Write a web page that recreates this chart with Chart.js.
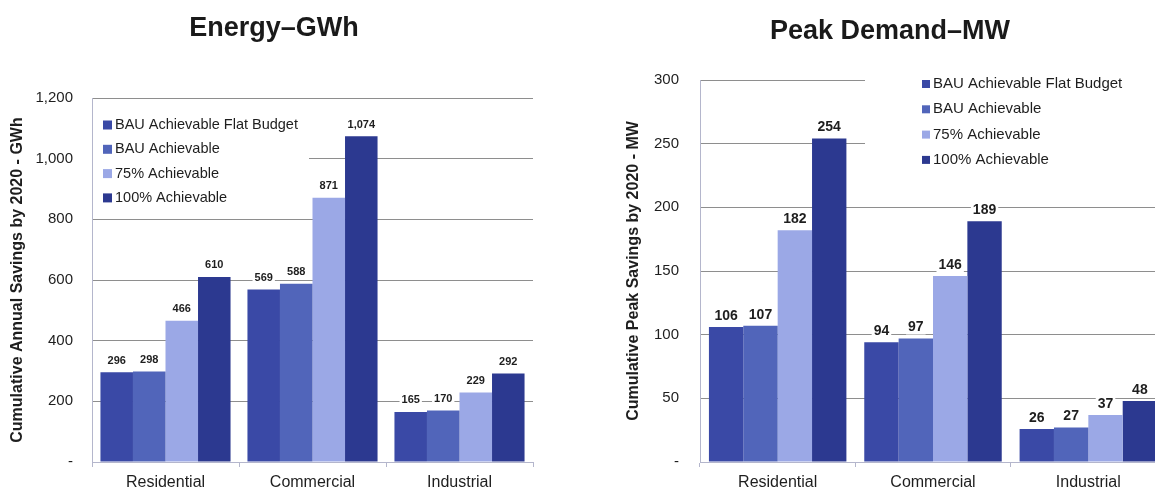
<!DOCTYPE html>
<html>
<head>
<meta charset="utf-8">
<title>Energy and Peak Demand Savings</title>
<script src="https://cdn.jsdelivr.net/npm/chart.js@4.4.1/dist/chart.umd.min.js"></script>
<style>
  html, body { margin: 0; padding: 0; background: #fff; width: 1155px; height: 493px; overflow: hidden; }
  canvas { position: absolute; top: 0; }
  #energy-chart { left: 0; }
  #peak-chart { left: 600px; }
</style>
</head>
<body>
<canvas id="energy-chart" width="560" height="493"></canvas>
<canvas id="peak-chart" width="575" height="493"></canvas>
<script>
// Data
const categories = ["Residential", "Commercial", "Industrial"];
const seriesNames = ["BAU Achievable Flat Budget", "BAU Achievable", "75% Achievable", "100% Achievable"];
const seriesColors = ["#3a49a6", "#5165ba", "#9ba8e6", "#2c3990"];

const energyFlatBudget = [296, 569, 165];
const energyBau = [298, 588, 170];
const energy75 = [466, 871, 229];
const energy100 = [610, 1074, 292];

const peakFlatBudget = [106, 94, 26];
const peakBau = [107, 97, 27];
const peak75 = [182, 146, 37];
const peak100 = [254, 189, 48];

const energyTickMax = 1200;
const energyTickStep = 200;
const peakTickMax = 300;
const peakTickStep = 50;

const FONT = "'Liberation Sans', Arial, sans-serif";

// Title drawn at a fixed spot over the panel
const panelTitle = {
  id: "panelTitle",
  afterDraw(chart, args, opts) {
    const ctx = chart.ctx;
    ctx.save();
    ctx.font = opts.font;
    ctx.fillStyle = opts.color;
    ctx.textAlign = "center";
    ctx.textBaseline = "middle";
    ctx.fillText(opts.text, opts.x, opts.y);
    ctx.restore();
  }
};

// White box under the legend, hides the gridlines like the original
const legendBackground = {
  id: "legendBackground",
  beforeDatasetsDraw(chart, args, opts) {
    const ctx = chart.ctx;
    ctx.save();
    ctx.fillStyle = "#fff";
    ctx.fillRect(opts.x, opts.y, opts.w, opts.h);
    ctx.restore();
  }
};

// Legend with square markers, placed inside the plot
const boxLegend = {
  id: "boxLegend",
  afterDraw(chart, args, opts) {
    const ctx = chart.ctx;
    ctx.save();
    ctx.font = opts.font;
    ctx.textAlign = "left";
    ctx.textBaseline = "middle";
    chart.data.datasets.forEach((ds, i) => {
      const y = opts.y + i * opts.rowHeight;
      ctx.fillStyle = ds.backgroundColor;
      ctx.fillRect(opts.x, y - opts.box / 2, opts.box, opts.box);
      ctx.fillStyle = opts.color;
      ctx.fillText(ds.label, opts.x + opts.box + opts.gap, y);
    });
    ctx.restore();
  }
};

// Value labels above each bar
const barLabels = {
  id: "barLabels",
  afterDatasetsDraw(chart, args, opts) {
    const ctx = chart.ctx;
    ctx.save();
    ctx.font = opts.font;
    ctx.textAlign = "center";
    ctx.textBaseline = "middle";
    chart.data.datasets.forEach((ds, i) => {
      chart.getDatasetMeta(i).data.forEach((bar, j) => {
        const text = ds.data[j].toLocaleString("en-US");
        const w = ctx.measureText(text).width;
        const y = bar.y - opts.offset;
        ctx.fillStyle = "#fff";
        ctx.fillRect(bar.x - w / 2 - 2, y - 7, w + 4, 14);
        ctx.fillStyle = opts.color;
        ctx.fillText(text, bar.x, y);
      });
    });
    ctx.restore();
  }
};

function makeDatasets(seriesData) {
  return seriesData.map((values, i) => ({
    label: seriesNames[i],
    data: values,
    backgroundColor: seriesColors[i],
    borderWidth: 0,
    categoryPercentage: 0.885,
    barPercentage: 1.0
  }));
}

function tickText(value) {
  return value === 0 ? "-" : value.toLocaleString("en-US");
}

function buildChart(canvas, setup) {
  return new Chart(canvas, {
    type: "bar",
    data: {
      labels: categories,
      datasets: makeDatasets(setup.series)
    },
    options: {
      responsive: false,
      animation: false,
      devicePixelRatio: 1,
      layout: { padding: setup.padding },
      scales: {
        x: {
          grid: { drawOnChartArea: false, offset: true, tickLength: 5, color: "#b4b6cc" },
          border: { color: "#b4b6cc" },
          ticks: { font: { family: FONT, size: 16 }, color: "#1e1e1e", padding: 6 },
          afterFit(scale) { scale.height = 31; }
        },
        y: {
          min: 0,
          max: setup.max,
          ticks: {
            stepSize: setup.step,
            font: { family: FONT, size: 15 },
            color: "#1e1e1e",
            padding: setup.tickPad,
            callback: tickText
          },
          grid: { drawTicks: false, color: "#8e8e8e" },
          border: { color: "#b4b6cc" },
          title: {
            display: true,
            text: setup.axisTitle,
            font: { family: FONT, size: 16, weight: "bold" },
            color: "#1e1e1e",
            padding: { top: setup.titlePad, bottom: 0 }
          },
          afterFit(scale) { scale.width = setup.axisWidth; }
        }
      },
      plugins: {
        legend: { display: false },
        tooltip: { enabled: false },
        panelTitle: { text: setup.title, x: setup.titleX, y: setup.titleY, font: "bold 27px " + FONT, color: "#1a1a1a" },
        legendBackground: setup.legendBg,
        boxLegend: setup.legend,
        barLabels: setup.labels
      }
    },
    plugins: [legendBackground, barLabels, boxLegend, panelTitle]
  });
}

buildChart(document.getElementById("energy-chart"), {
  series: [energyFlatBudget, energyBau, energy75, energy100],
  max: energyTickMax,
  step: energyTickStep,
  padding: { left: 0, top: 98, right: 27, bottom: 0 },
  axisWidth: 92,
  tickPad: 19,
  titlePad: 8,
  axisTitle: "Cumulative Annual Savings by 2020 - GWh",
  title: "Energy\u2013GWh",
  titleX: 274,
  titleY: 29,
  legendBg: { x: 93, y: 106, w: 216, h: 106 },
  legend: { x: 103, y: 125, rowHeight: 24.3, box: 9, gap: 3, font: "14.5px " + FONT, color: "#1e1e1e" },
  labels: { offset: 11.5, font: "bold 11px " + FONT, color: "#1e1e1e" }
});

buildChart(document.getElementById("peak-chart"), {
  series: [peakFlatBudget, peakBau, peak75, peak100],
  max: peakTickMax,
  step: peakTickStep,
  padding: { left: 0, top: 80, right: 9, bottom: 0 },
  axisWidth: 100,
  tickPad: 21,
  titlePad: 24,
  axisTitle: "Cumulative Peak Savings by 2020 - MW",
  title: "Peak Demand\u2013MW",
  titleX: 290,
  titleY: 32,
  legendBg: { x: 265, y: 70, w: 310, h: 118 },
  legend: { x: 322, y: 84, rowHeight: 25.3, box: 8, gap: 3, font: "15px " + FONT, color: "#1e1e1e" },
  labels: { offset: 11, font: "bold 14px " + FONT, color: "#1e1e1e" }
});
</script>
</body>
</html>
